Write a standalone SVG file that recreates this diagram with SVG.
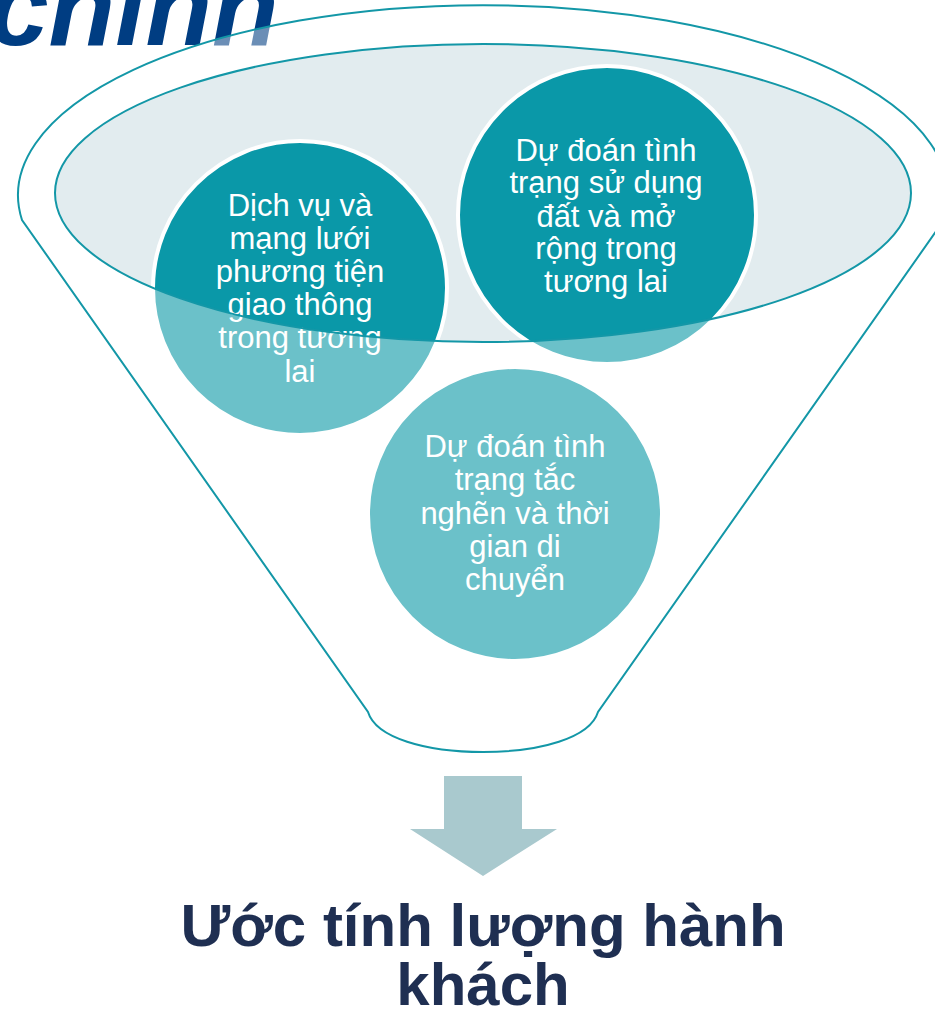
<svg xmlns="http://www.w3.org/2000/svg" width="935" height="1012" viewBox="0 0 935 1012">
<style>
.lbl{font-family:"Liberation Sans",Arial,sans-serif;font-size:31px;fill:#ffffff;text-anchor:middle}
.title{font-family:"Liberation Sans",Arial,sans-serif;font-size:60px;font-weight:bold;fill:#1F2F52;text-anchor:middle}
.light{fill:#6BC1C9}
.dark{fill:#0A98A8}
.ring{fill:none;stroke:#ffffff;stroke-width:4}
.line{fill:none;stroke:#1397A7;stroke-width:2}
</style>
<defs>
<clipPath id="inner">
<ellipse cx="483" cy="193" rx="428" ry="149"/>
</clipPath>
</defs>
<rect width="935" height="1012" fill="#ffffff"/>
<text x="-12" y="45" style="font-family:'Liberation Sans',Arial,sans-serif;font-size:109px;font-weight:bold;font-style:italic;fill:#003D82">chính</text>
<g id="funnel">
<path d="M22,220 A465,190 0 1 1 944,220 L598,712 C590,738 540,752 483,752 C426,752 376,738 368,712 Z" class="line" style="fill:#ffffff;fill-opacity:0.42"/>
<ellipse cx="483" cy="193" rx="428" ry="149" fill="#E2ECEF"/>
</g>
<g id="node-left">
<circle cx="300" cy="288" r="147" class="light"/>
<circle cx="300" cy="288" r="147" class="dark" clip-path="url(#inner)"/>
<circle cx="300" cy="288" r="147" class="ring"/>
<text class="lbl"><tspan x="300" y="216">Dịch vụ và</tspan><tspan x="300" y="249">mạng lưới</tspan><tspan x="300" y="282">phương tiện</tspan><tspan x="300" y="315">giao thông</tspan><tspan x="300" y="348">trong tương</tspan><tspan x="300" y="382">lai</tspan></text>
</g>
<g id="node-right">
<circle cx="607" cy="215" r="149" class="light"/>
<circle cx="607" cy="215" r="149" class="dark" clip-path="url(#inner)"/>
<circle cx="607" cy="215" r="149" class="ring"/>
<text class="lbl"><tspan x="606" y="161">Dự đoán tình</tspan><tspan x="606" y="193">trạng sử dụng</tspan><tspan x="606" y="227">đất và mở</tspan><tspan x="606" y="259">rộng trong</tspan><tspan x="606" y="292">tương lai</tspan></text>
</g>
<g id="node-bottom">
<circle cx="515" cy="514" r="147" class="light"/>
<circle cx="515" cy="514" r="147" class="ring"/>
<text class="lbl"><tspan x="515" y="457">Dự đoán tình</tspan><tspan x="515" y="490">trạng tắc</tspan><tspan x="515" y="524">nghẽn và thời</tspan><tspan x="515" y="557">gian di</tspan><tspan x="515" y="590">chuyển</tspan></text>
</g>
<g id="funnel-rim">
<ellipse cx="483" cy="193" rx="428" ry="149" class="line"/>
</g>
<g id="connectors">
<polygon points="444,776 522,776 522,829 557,829 483,876 410,829 444,829" fill="#A9C9CE"/>
</g>
<g id="result">
<text class="title"><tspan x="483" y="946">Ước tính lượng hành</tspan><tspan x="483" y="1005">khách</tspan></text>
</g>
</svg>
